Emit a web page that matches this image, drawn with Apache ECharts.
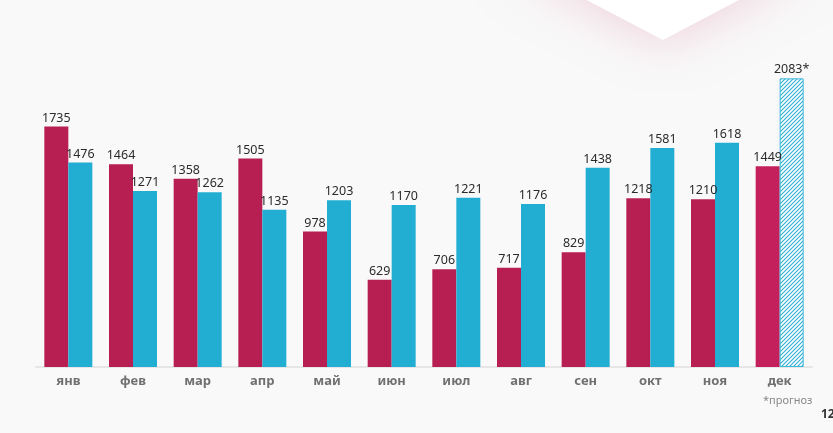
<!DOCTYPE html>
<html>
<head>
    <meta charset="UTF-8">
    <title>chart</title>
    <script src="https://cdn.jsdelivr.net/npm/echarts@6/dist/echarts.min.js"></script>
    <style>
        html, body { margin: 0; padding: 0; background: #f9f9f9; }
        #chart { width: 833px; height: 433px; }
    </style>
</head>
<body>
<div id="chart"></div>
<script type="text/javascript">
    const months = ['янв', 'фев', 'мар', 'апр', 'май', 'июн', 'июл', 'авг', 'сен', 'окт', 'ноя', 'дек'];
    const redValues = [1735, 1464, 1358, 1505, 978, 629, 706, 717, 829, 1218, 1210, 1449];
    const blueValues = [1476, 1271, 1262, 1135, 1203, 1170, 1221, 1176, 1438, 1581, 1618, 2083];
    const forecastIndex = 11;

    // штриховка для прогноза: пиксельная диагональ без сглаживания
    const hatch = document.createElement('canvas');
    hatch.width = 4;
    hatch.height = 4;
    const ctx = hatch.getContext('2d');
    ctx.fillStyle = '#ffffff';
    ctx.fillRect(0, 0, 4, 4);
    for (let y = 0; y < 4; y++) {
        for (let x = 0; x < 4; x++) {
            if ((x + y) % 4 === 3) {
                ctx.fillStyle = '#3ab3d6';
                ctx.fillRect(x, y, 1, 1);
            } else if ((x + y) % 4 === 0 || (x + y) % 4 === 2) {
                ctx.fillStyle = '#bfe6f2';
                ctx.fillRect(x, y, 1, 1);
            }
        }
    }

    let chart = echarts.init(document.getElementById('chart'));

    let redData = redValues.map(function (v, i) {
        return i === forecastIndex ? { value: v, itemStyle: { color: '#c4215c' } } : v;
    });
    let blueData = blueValues.map(function (v, i) {
        if (i === forecastIndex) {
            return {
                value: v,
                itemStyle: { color: { image: hatch, repeat: 'repeat' }, borderColor: '#3bb8da', borderWidth: 1 },
                label: { formatter: v + '*' }
            };
        }
        return v;
    });

    let labelStyle = {
        show: true,
        position: 'top',
        distance: 2,
        color: '#2b2b2b',
        fontFamily: 'Noto Sans',
        fontSize: 12.5
    };

    let option = {
        backgroundColor: '#f9f9f9',
        animation: false,
        graphic: [
            {
                type: 'polygon',
                shape: { points: [[510, -40], [663, 40], [815, -40]] },
                style: { fill: '#ffffff', shadowBlur: 50, shadowColor: 'rgba(226, 160, 185, 0.5)' },
                z: 0
            },
            {
                type: 'text',
                left: 763,
                top: 395,
                style: { text: '*прогноз', fill: '#8a8a8a', font: '11px "Noto Sans"' }
            },
            {
                type: 'text',
                left: 821,
                top: 409,
                style: { text: '12', fill: '#333333', font: 'bold 12px "Noto Sans"' }
            }
        ],
        grid: { left: 36, right: 21, top: 67, height: 300 },
        xAxis: {
            type: 'category',
            data: months,
            axisLine: { lineStyle: { color: '#e6e6e6', width: 2 } },
            axisTick: { show: false },
            axisLabel: { color: '#707070', fontWeight: 'bold', fontSize: 13, fontFamily: 'Noto Sans', margin: 8 }
        },
        yAxis: {
            type: 'value',
            min: 0,
            max: 2165,
            show: false,
            splitLine: { show: false }
        },
        series: [
            {
                type: 'bar',
                data: redData,
                barWidth: 24,
                barGap: '0%',
                itemStyle: { color: '#b71f53' },
                label: labelStyle
            },
            {
                type: 'bar',
                data: blueData,
                barWidth: 24,
                itemStyle: { color: '#22aed2' },
                label: labelStyle
            }
        ]
    };
    chart.setOption(option);
</script>
</body>
</html>
